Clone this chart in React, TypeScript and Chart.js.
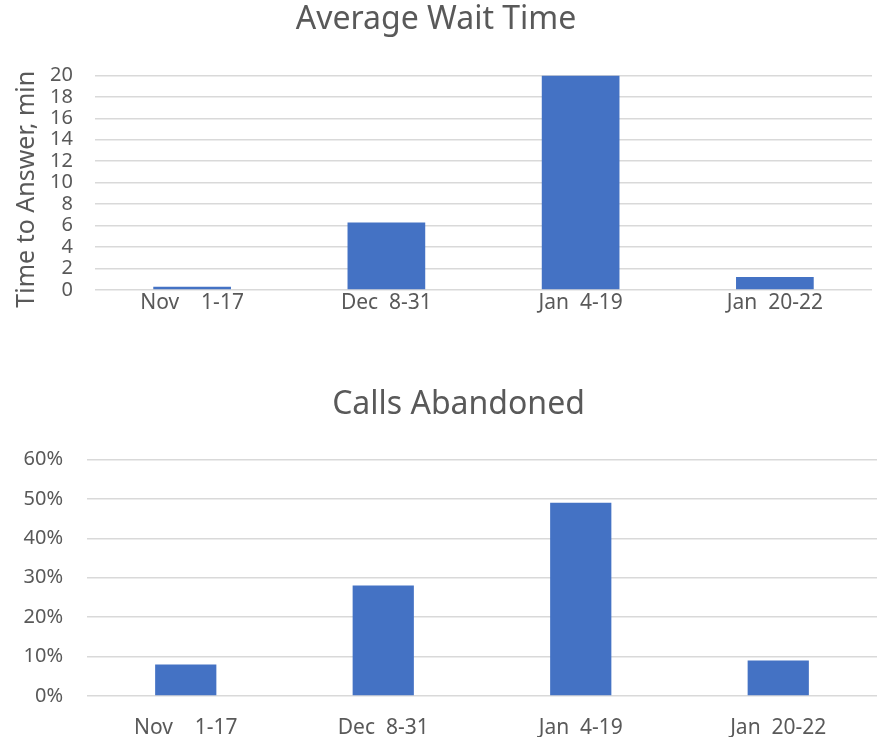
import React, { useEffect, useRef } from "react";
import { Chart, registerables } from "chart.js";

Chart.register(...registerables);

const categories = ["Nov    1-17", "Dec  8-31", "Jan  4-19", "Jan  20-22"];
const waitMinutes = [0.3, 6.3, 20, 1.2];
const abandonedPct = [8, 28, 49, 9];
const waitTicks = { min: 0, max: 20, step: 2 };
const abandonTicks = { min: 0, max: 60, step: 10 };

const FONT = "'Noto Sans', 'Open Sans', sans-serif";
const TEXT = "#595959";
const GRID = "#d9d9d9";
const BAR = "#4472C4";

function makeConfig(opts: {
  title: string;
  data: number[];
  min: number;
  max: number;
  step: number;
  yWidth: number;
  xHeight: number;
  xPad: number;
  titleTop: number;
  titleBottom: number;
  titleShift: number;
  barPct: number;
  tickPad: number;
  yTitle?: string;
  fmt: (v: number) => string;
  padRight: number;
}) {
  return {
    type: "bar" as const,
    data: {
      labels: categories,
      datasets: [
        {
          data: opts.data,
          backgroundColor: BAR,
          borderWidth: 0,
          categoryPercentage: 1,
          barPercentage: opts.barPct,
        },
      ],
    },
    plugins: [
      {
        id: "titleShift",
        afterLayout(chart: any) {
          const t = chart.titleBlock;
          if (t && opts.titleShift) {
            t.left += opts.titleShift * 2;
          }
        },
      },
    ],
    options: {
      animation: false,
      responsive: false,
      maintainAspectRatio: false,
      layout: { padding: { left: 0, right: opts.padRight, top: 0, bottom: 0 } },
      plugins: {
        legend: { display: false },
        tooltip: { enabled: false },
        title: {
          display: true,
          text: opts.title,
          color: TEXT,
          font: { family: FONT, size: 32, weight: "normal" as const, lineHeight: 1.2 },
          padding: { top: opts.titleTop, bottom: opts.titleBottom },
        },
      },
      scales: {
        x: {
          grid: { display: false, drawTicks: false },
          border: { display: false },
          ticks: {
            color: TEXT,
            font: { family: FONT, size: 21, lineHeight: 1.2 },
            padding: opts.xPad,
            maxRotation: 0,
            autoSkip: false,
          },
          afterFit: (s: any) => {
            s.height = opts.xHeight;
          },
        },
        y: {
          min: opts.min,
          max: opts.max,
          grid: { color: GRID, lineWidth: 1.5, drawTicks: false },
          border: { display: false },
          ticks: {
            stepSize: opts.step,
            autoSkip: false,
            color: TEXT,
            font: { family: FONT, size: 20, lineHeight: 1 },
            padding: opts.tickPad,
            callback: (v: any) => opts.fmt(Number(v)),
          },
          title: opts.yTitle
            ? {
                display: true,
                text: opts.yTitle,
                color: TEXT,
                font: { family: FONT, size: 25, lineHeight: 1.2 },
                padding: { top: 12, bottom: 0 },
              }
            : { display: false },
          afterFit: (s: any) => {
            s.width = opts.yWidth;
          },
        },
      },
    },
  };
}

export default function App() {
  const ref1 = useRef<HTMLCanvasElement>(null);
  const ref2 = useRef<HTMLCanvasElement>(null);

  useEffect(() => {
    const c1 = new Chart(
      ref1.current!,
      makeConfig({
        title: "Average Wait Time",
        data: waitMinutes,
        min: waitTicks.min,
        max: waitTicks.max,
        step: waitTicks.step,
        yWidth: 95,
        xHeight: 40,
        xPad: 0,
        titleTop: 1,
        titleBottom: 36,
        titleShift: 0,
        barPct: 0.4,
        tickPad: 22,
        yTitle: "Time to Answer, min  ",
        fmt: (v) => String(v),
        padRight: 5,
      }) as any
    );
    const c2 = new Chart(
      ref2.current!,
      makeConfig({
        title: "Calls Abandoned",
        data: abandonedPct,
        min: abandonTicks.min,
        max: abandonTicks.max,
        step: abandonTicks.step,
        yWidth: 87,
        xHeight: 41,
        xPad: 19,
        titleTop: 16,
        titleBottom: 35,
        titleShift: 20,
        barPct: 0.31,
        tickPad: 24,
        fmt: (v) => Math.round(v) + "%",
        padRight: 0,
      }) as any
    );
    return () => {
      c1.destroy();
      c2.destroy();
    };
  }, []);

  return (
    <div
      style={{
        position: "absolute",
        left: 0,
        top: 0,
        width: 877,
        height: 737,
        background: "#fff",
      }}
    >
      <canvas
        ref={ref1}
        width={877}
        height={330}
        style={{ position: "absolute", left: 0, top: 0, width: 877, height: 330 }}
      />
      <canvas
        ref={ref2}
        width={877}
        height={367}
        style={{ position: "absolute", left: 0, top: 370, width: 877, height: 367 }}
      />
    </div>
  );
}
